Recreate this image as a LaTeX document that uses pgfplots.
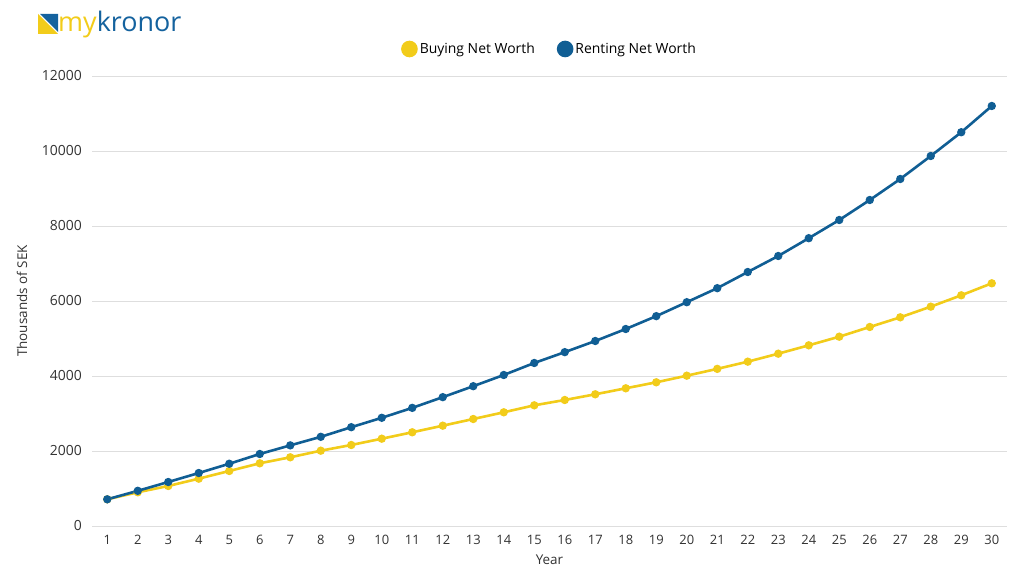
\documentclass[border=0pt]{standalone}
\usepackage{pgfplots}
\pgfplotsset{compat=1.18}
\usepackage{fontspec}
\setmainfont{Open Sans}
\definecolor{buy}{RGB}{242,204,26}
\definecolor{rent}{RGB}{16,94,148}
\definecolor{logoblue}{RGB}{20,98,158}
\definecolor{gridc}{RGB}{222,222,222}

\begin{document}
\begin{tikzpicture}[x=1bp,y=1bp]
\path[use as bounding box, fill=white] (0,0) rectangle (1024,582);

% logo
\fill[buy] (38,548) -- (38,568) -- (58,548) -- cycle;
\fill[logoblue] (40,568) -- (58,568) -- (58,550) -- cycle;
\node[anchor=base west, inner sep=0, font=\fontsize{27}{30}\selectfont]
  at (58,550) {\textcolor{buy}{my}\textcolor{logoblue}{kronor}};

\begin{axis}[
    at={(92bp,56bp)}, anchor=south west,
    scale only axis, width=915bp, height=450bp,
    xmin=0.5, xmax=30.5,
    ymin=0, ymax=12000,
    xtick={1,2,...,30},
    ytick={0,2000,4000,6000,8000,10000,12000},
    scaled y ticks=false,
    yticklabel style={/pgf/number format/fixed, /pgf/number format/precision=0},
    axis line style={draw=none},
    major tick length=0pt,
    ymajorgrids=true,
    grid style={line width=0.8bp, draw=gridc},
    /pgf/number format/1000 sep={},
    /pgf/number format/assume math mode=true,
    ticklabel style={font=\fontsize{14}{16}\selectfont, text=black!80},
    yticklabel style={inner sep=0pt, xshift=-10bp},
    xticklabel style={inner sep=0pt, yshift=-9bp, font=\fontsize{13}{15}\selectfont},
    xlabel={Year},
    ylabel={Thousands of SEK},
    label style={font=\fontsize{13.5}{15}\selectfont, text=black!80},
    xlabel style={at={(axis description cs:0.5,0)}, anchor=center, yshift=-34bp},
    ylabel style={at={(axis description cs:0,0.5)}, anchor=center, yshift=70bp},
    legend style={at={(0.5,1.06)}, anchor=center, draw=none, fill=none,
        legend columns=2, font=\fontsize{14}{16}\selectfont,
        /tikz/every even column/.append style={column sep=20bp}},
    legend cell align=left,
    legend image code/.code={\fill[#1] (-2bp,0bp) circle (7bp);},
]

\addplot[color=buy, line width=2.6bp, mark=*, mark size=2.8bp] coordinates {
(1,712) (2,899) (3,1067) (4,1262) (5,1467) (6,1672) (7,1832) (8,2008) (9,2160) (10,2328)
(11,2499) (12,2675) (13,2853) (14,3032) (15,3218) (16,3360) (17,3512) (18,3672) (19,3832) (20,4008)
(21,4190) (22,4382) (23,4595) (24,4818) (25,5048) (26,5307) (27,5565) (28,5849) (29,6152) (30,6472)
};
\addlegendentry{Buying Net Worth}

\addplot[color=rent, line width=2.6bp, mark=*, mark size=2.8bp] coordinates {
(1,712) (2,938) (3,1173) (4,1413) (5,1660) (6,1920) (7,2150) (8,2378) (9,2635) (10,2885)
(11,3150) (12,3436) (13,3728) (14,4027) (15,4347) (16,4636) (17,4933) (18,5253) (19,5596) (20,5968)
(21,6342) (22,6773) (23,7200) (24,7675) (25,8160) (26,8693) (27,9253) (28,9867) (29,10500) (30,11200)
};
\addlegendentry{Renting Net Worth}

\end{axis}
\end{tikzpicture}
\end{document}
